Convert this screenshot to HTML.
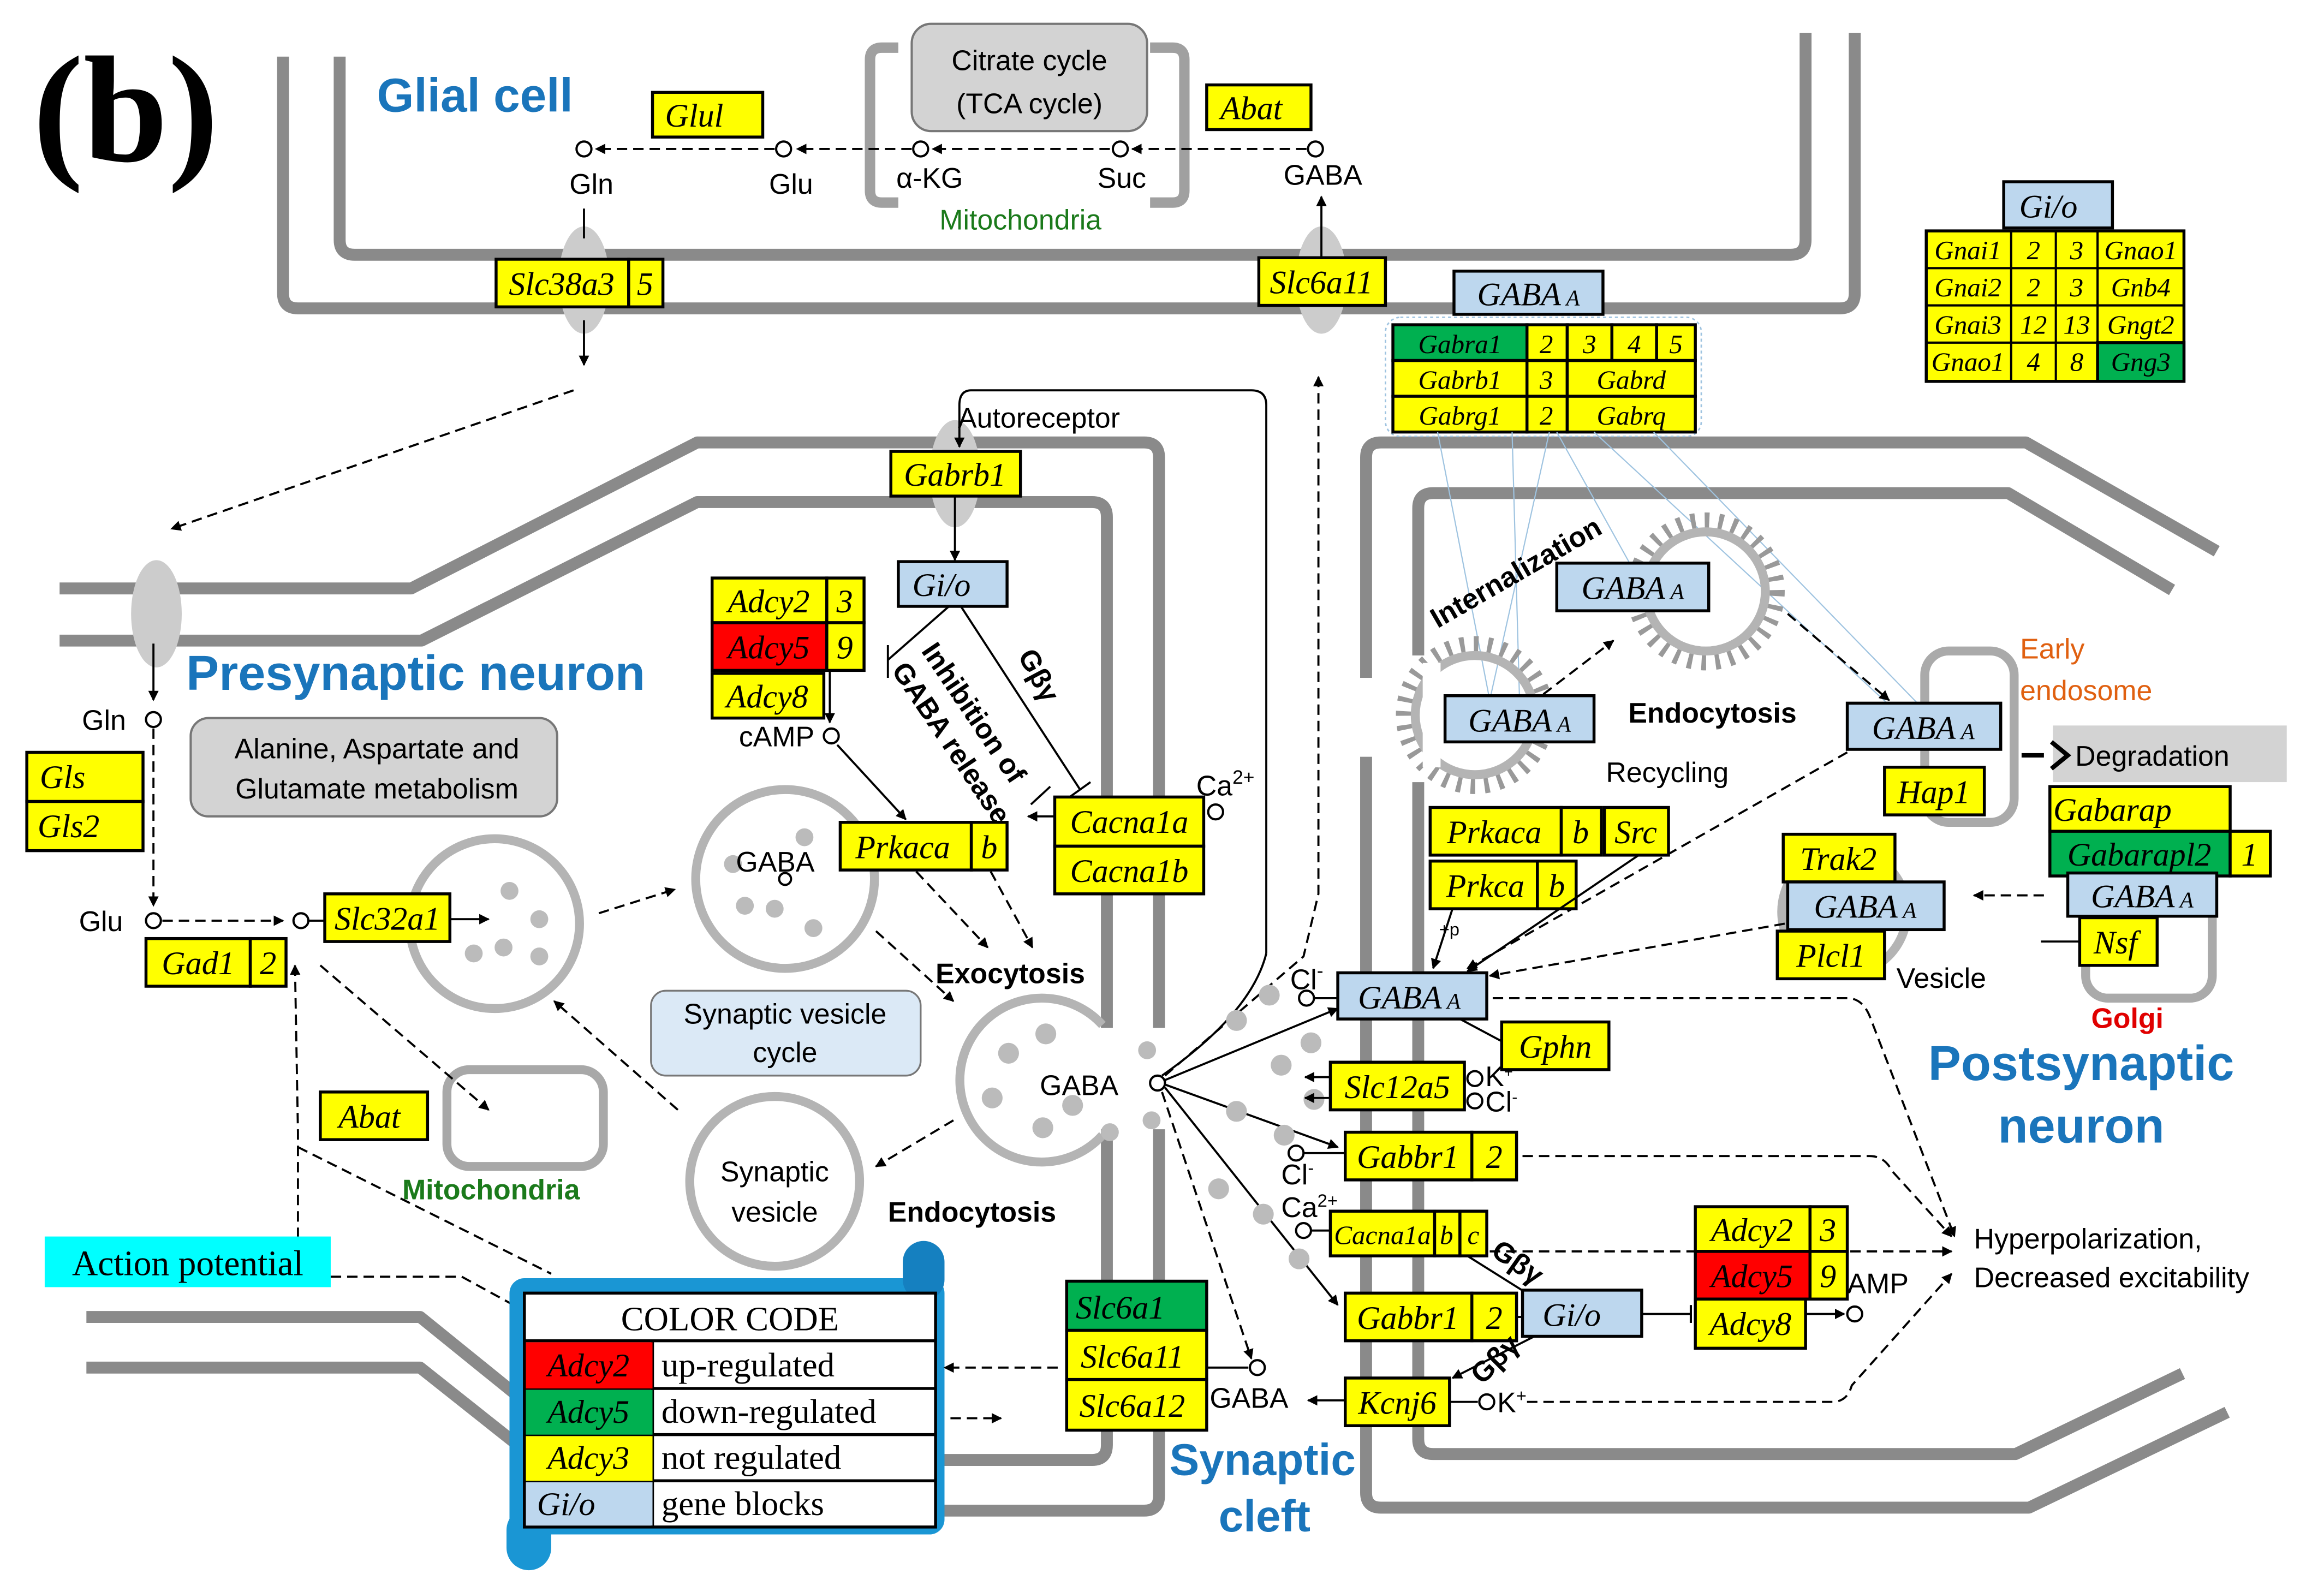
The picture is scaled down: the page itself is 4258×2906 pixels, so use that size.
<!DOCTYPE html>
<html><head><meta charset="utf-8">
<style>
html,body{margin:0;padding:0;background:#fff;}
svg{display:block}
.m{fill:none;stroke:#8a8a8a;stroke-width:8;stroke-linejoin:round}
.v{fill:none;stroke:#b4b4b4;stroke-width:6}
.y{fill:#ffff00;stroke:#000;stroke-width:2}
.b{fill:#bdd7ee;stroke:#000;stroke-width:2}
.rd{fill:#ff0000;stroke:#000;stroke-width:2}
.gr{fill:#00b050;stroke:#000;stroke-width:2}
.t{font-family:"Liberation Serif",serif;font-style:italic;font-size:22px;text-anchor:middle}
.ts{font-family:"Liberation Serif",serif;font-style:italic;font-size:18px;text-anchor:middle}
.s{font-family:"Liberation Sans",sans-serif;font-size:19px}
.sc{font-family:"Liberation Sans",sans-serif;font-size:19px;text-anchor:middle}
.bl{font-family:"Liberation Sans",sans-serif;font-weight:bold;fill:#1a75bb}
.d{fill:none;stroke:#000;stroke-width:1.4;stroke-dasharray:7,4}
.l{fill:none;stroke:#000;stroke-width:1.4}
.o{fill:#fff;stroke:#000;stroke-width:1.5}
.dot{fill:#bbb}
.cc{font-family:"Liberation Serif",serif;font-size:23px}
</style></head>
<body>
<svg width="4258" height="2906" viewBox="0 0 1560 1064.6" preserveAspectRatio="none" xmlns="http://www.w3.org/2000/svg">
<defs>
<marker id="a" viewBox="0 0 10 10" refX="9" refY="5" markerWidth="7" markerHeight="7" orient="auto-start-reverse" markerUnits="userSpaceOnUse"><path d="M0,0 L10,5 L0,10 z" fill="#000"/></marker>
<marker id="tb" viewBox="0 0 4 12" refX="2" refY="6" markerWidth="4" markerHeight="12" orient="auto" markerUnits="userSpaceOnUse"><path d="M2,0 V12" stroke="#000" stroke-width="1.5"/></marker>
</defs>

<text x="22" y="108" font-family="Liberation Serif,serif" font-weight="bold" font-size="102">(b)</text>

<path class="m" d="M190,38 V197 Q190,207 200,207 H1235 Q1245,207 1245,197 V22"/>
<path class="m" d="M228,38 V161 Q228,171 238,171 H1202 Q1212,171 1212,161 V22"/>
<ellipse cx="392" cy="188" rx="17" ry="36" fill="#ccc"/>
<ellipse cx="887" cy="188" rx="17" ry="36" fill="#ccc"/>

<path d="M603,32 H592 Q584,32 584,40 V128 Q584,136 592,136 H603" fill="none" stroke="#a0a0a0" stroke-width="7"/>
<path d="M772,32 H787 Q795,32 795,40 V128 Q795,136 787,136 H772" fill="none" stroke="#a0a0a0" stroke-width="7"/>
<rect x="612" y="16" width="158" height="72" rx="13" fill="#d3d3d3" stroke="#777" stroke-width="1.5"/>
<text x="691" y="47" class="sc" font-size="20">Citrate cycle</text>
<text x="691" y="76" class="sc" font-size="20">(TCA cycle)</text>

<text x="253" y="75" class="bl" font-size="32">Glial cell</text>

<path class="d" d="M877,100 H760" marker-end="url(#a)"/>
<path class="d" d="M745,100 H626" marker-end="url(#a)"/>
<path class="d" d="M612,100 H535" marker-end="url(#a)"/>
<path class="d" d="M520,100 H400" marker-end="url(#a)"/>
<circle class="o" cx="392" cy="100" r="5"/><circle class="o" cx="526" cy="100" r="5"/><circle class="o" cx="618" cy="100" r="5"/><circle class="o" cx="752" cy="100" r="5"/><circle class="o" cx="883" cy="100" r="5"/>
<text x="397" y="130" class="sc">Gln</text><text x="531" y="130" class="sc">Glu</text><text x="624" y="126" class="sc">α-KG</text><text x="753" y="126" class="sc">Suc</text><text x="888" y="124" class="sc">GABA</text>
<text x="685" y="154" class="sc" fill="#1b7a1b" font-size="21">Mitochondria</text>
<rect class="y" x="438" y="62" width="74" height="30"/><text x="466" y="85" class="t">Glul</text>
<rect class="y" x="810" y="57" width="70" height="30"/><text x="840" y="80" class="t">Abat</text>

<rect class="y" x="333" y="174" width="89" height="32"/><rect class="y" x="422" y="174" width="23" height="32"/>
<text x="377" y="198" class="t">Slc38a3</text><text x="433" y="198" class="t">5</text>
<rect class="y" x="845" y="173" width="85" height="32"/><text x="887" y="197" class="t">Slc6a11</text>
<path class="l" d="M887,173 V132" marker-end="url(#a)"/>
<path class="l" d="M392,140 V160"/>
<path class="l" d="M392,215 V245" marker-end="url(#a)"/>
<path class="d" d="M385,262 L115,355" marker-end="url(#a)"/>

<path class="m" d="M40,395 H276 L468,297 H768 Q778,297 778,307 V690 M778,758 V1004 Q778,1014 768,1014 H631"/>
<path class="m" d="M40,430 H283 L468,337 H733 Q743,337 743,347 V690 M743,758 V970 Q743,980 733,980 H631"/>
<path class="m" d="M58,884 H282 L345,935"/>
<path class="m" d="M58,918 H282 L345,968"/>
<ellipse cx="105" cy="412" rx="17" ry="36" fill="#ccc"/>
<ellipse cx="641" cy="318" rx="17" ry="36" fill="#ccc"/>

<text x="125" y="463" class="bl" font-size="33">Presynaptic neuron</text>

<path class="l" d="M850,640 V272 Q850,262 840,262 H652 Q644,262 644,272 V300" marker-end="url(#a)"/>
<text x="643" y="287" class="s">Autoreceptor</text>
<rect class="y" x="598" y="303" width="87" height="30"/><text x="641" y="326" class="t">Gabrb1</text>
<path class="l" d="M641,333 V376" marker-end="url(#a)"/>
<rect class="b" x="603" y="377" width="73" height="30"/><text x="632" y="400" class="t">Gi/o</text>

<path class="l" d="M637,407 L596,443"/><path class="l" d="M596,433 V455"/>
<path class="l" d="M645,407 L725,530"/><path class="l" d="M718,535 L732,525"/>
<path class="l" d="M692,540 L705,528"/>
<text transform="translate(618,437) rotate(56)" class="s" font-weight="bold" font-size="20">Inhibition of</text>
<text transform="translate(598,450) rotate(56)" class="s" font-weight="bold" font-size="20">GABA release</text>
<text transform="translate(683,440) rotate(62)" class="s" font-weight="bold" font-size="20">Gβγ</text>

<rect class="y" x="478" y="388" width="77" height="30"/><rect class="y" x="555" y="388" width="25" height="30"/>
<rect class="rd" x="478" y="418" width="77" height="32"/><rect class="y" x="555" y="418" width="25" height="32"/>
<rect class="y" x="478" y="452" width="75" height="30"/>
<text x="516" y="411" class="t">Adcy2</text><text x="567" y="411" class="t">3</text>
<text x="516" y="442" class="t">Adcy5</text><text x="567" y="442" class="t">9</text>
<text x="515" y="475" class="t">Adcy8</text>
<path class="l" d="M557,450 V485" marker-end="url(#a)"/>
<circle class="o" cx="558" cy="494" r="5"/>
<text x="496" y="501" class="s">cAMP</text>
<path class="l" d="M562,500 L608,550" marker-end="url(#a)"/>

<rect class="y" x="18" y="505" width="78" height="33"/><text x="42" y="529" class="t">Gls</text>
<rect class="y" x="18" y="538" width="78" height="33"/><text x="46" y="562" class="t">Gls2</text>
<rect x="128" y="482" width="246" height="66" rx="12" fill="#d3d3d3" stroke="#777" stroke-width="1.5"/>
<text x="253" y="509" class="sc">Alanine, Aspartate and</text>
<text x="253" y="536" class="sc">Glutamate metabolism</text>
<text x="55" y="490" class="s">Gln</text>
<circle class="o" cx="103" cy="483" r="5"/>
<path class="l" d="M103,432 V470" marker-end="url(#a)"/>
<path class="d" d="M103,489 V608" marker-end="url(#a)"/>
<text x="53" y="625" class="s">Glu</text>
<circle class="o" cx="103" cy="618" r="5"/>
<path class="d" d="M109,618 H190" marker-end="url(#a)"/>
<circle class="o" cx="202" cy="618" r="5"/>
<path class="l" d="M207,618 H218"/>

<circle class="v" cx="332" cy="620" r="57"/>
<circle class="dot" cx="342" cy="598" r="6"/><circle class="dot" cx="362" cy="617" r="6"/><circle class="dot" cx="318" cy="640" r="6"/><circle class="dot" cx="338" cy="636" r="6"/><circle class="dot" cx="362" cy="642" r="6"/>

<rect class="y" x="218" y="600" width="84" height="32"/><text x="260" y="624" class="t">Slc32a1</text>
<path class="l" d="M302,617 H328" marker-end="url(#a)"/>
<rect class="y" x="98" y="630" width="70" height="32"/><rect class="y" x="168" y="630" width="24" height="32"/>
<text x="133" y="654" class="t">Gad1</text><text x="180" y="654" class="t">2</text>

<circle class="v" cx="527" cy="590" r="60"/>
<circle class="dot" cx="540" cy="562" r="6"/><circle class="dot" cx="492" cy="580" r="6"/><circle class="dot" cx="500" cy="608" r="6"/><circle class="dot" cx="520" cy="610" r="6"/><circle class="dot" cx="546" cy="623" r="6"/>
<text x="494" y="585" class="s" font-size="20">GABA</text>
<circle class="o" cx="527" cy="590" r="4"/>
<path class="v" d="M740,688 A55,55 0 1 0 740,762"/>
<circle class="dot" cx="677" cy="707" r="7"/><circle class="dot" cx="702" cy="694" r="7"/><circle class="dot" cx="666" cy="737" r="7"/><circle class="dot" cx="720" cy="742" r="7"/><circle class="dot" cx="700" cy="757" r="7"/>
<circle class="dot" cx="770" cy="705" r="6"/><circle class="dot" cx="773" cy="752" r="6"/><circle class="dot" cx="745" cy="760" r="6"/>
<circle class="v" cx="520" cy="793" r="57"/>
<text x="520" y="793" class="sc">Synaptic</text><text x="520" y="820" class="sc">vesicle</text>
<rect x="300" y="718" width="105" height="65" rx="15" fill="none" stroke="#a8a8a8" stroke-width="6"/>
<text x="270" y="805" class="s" fill="#1b7a1b" font-weight="bold" font-size="21">Mitochondria</text>
<rect class="y" x="215" y="733" width="72" height="32"/><text x="248" y="757" class="t">Abat</text>
<path class="d" d="M215,648 L328,745" marker-end="url(#a)"/>
<path class="d" d="M200,842 V760 L198,648" marker-end="url(#a)"/>
<path class="d" d="M200,770 L370,855"/>
<path class="d" d="M402,613 L453,597" marker-end="url(#a)"/>
<path class="d" d="M455,745 L372,672" marker-end="url(#a)"/>
<path class="d" d="M640,752 L588,783" marker-end="url(#a)"/>
<path class="d" d="M588,625 L640,672" marker-end="url(#a)"/>
<rect x="437" y="665" width="181" height="57" rx="10" fill="#dbe9f6" stroke="#777" stroke-width="1.2"/>
<text x="527" y="687" class="sc">Synaptic vesicle</text><text x="527" y="713" class="sc">cycle</text>
<text x="628" y="660" class="s" font-size="20" font-weight="bold">Exocytosis</text>
<text x="596" y="820" class="s" font-size="20" font-weight="bold">Endocytosis</text>

<rect class="y" x="564" y="552" width="88" height="32"/><rect class="y" x="652" y="552" width="24" height="32"/>
<text x="606" y="576" class="t">Prkaca</text><text x="664" y="576" class="t">b</text>
<path class="d" d="M615,585 L663,636" marker-end="url(#a)"/>
<path class="d" d="M665,585 L693,636" marker-end="url(#a)"/>
<rect class="y" x="708" y="535" width="100" height="33"/><rect class="y" x="708" y="568" width="100" height="32"/>
<text x="758" y="559" class="t">Cacna1a</text><text x="758" y="592" class="t">Cacna1b</text>
<path class="l" d="M708,548 H690" marker-end="url(#a)"/>
<circle class="o" cx="816" cy="545" r="5"/>
<text x="803" y="534" class="s">Ca<tspan font-size="13" dy="-8">2+</tspan></text>

<rect x="30" y="830" width="192" height="34" fill="#00ffff"/>
<text x="126" y="856" font-family="Liberation Serif,serif" font-size="24" text-anchor="middle">Action potential</text>
<path class="d" d="M222,857 H310 L352,880"/>
<rect x="342" y="858" width="292" height="172" rx="10" fill="#1a96d4"/>
<rect x="606" y="833" width="28" height="40" rx="14" fill="#1580c0"/>
<rect x="340" y="1012" width="30" height="42" rx="15" fill="#1a96d4"/>
<rect x="352" y="868" width="276" height="157" fill="#fff" stroke="#000" stroke-width="2"/>
<text x="490" y="893" class="cc" text-anchor="middle">COLOR CODE</text>
<path d="M352,900 H628 M352,932 H628 M352,963 H628 M352,994 H628 M438,900 V1025" stroke="#000" stroke-width="2"/>
<rect x="353" y="901" width="85" height="31" fill="#ff0000"/>
<rect x="353" y="933" width="85" height="30" fill="#00b050"/>
<rect x="353" y="964" width="85" height="30" fill="#ffff00"/>
<rect x="353" y="995" width="85" height="29" fill="#bdd7ee"/>
<text x="395" y="924" class="t">Adcy2</text><text x="395" y="955" class="t">Adcy5</text><text x="395" y="986" class="t">Adcy3</text><text x="380" y="1017" class="t">Gi/o</text>
<text x="444" y="924" class="cc">up-regulated</text><text x="444" y="955" class="cc">down-regulated</text><text x="444" y="986" class="cc">not regulated</text><text x="444" y="1017" class="cc">gene blocks</text>
<path class="d" d="M634,918 H710" marker-end="url(#a)" transform="translate(1344,0) scale(-1,1)"/>
<path class="d" d="M638,952 H672" marker-end="url(#a)"/>

<rect class="gr" x="716" y="860" width="94" height="33"/><rect class="y" x="716" y="893" width="94" height="33"/><rect class="y" x="716" y="926" width="94" height="34"/>
<text x="752" y="885" class="t">Slc6a1</text><text x="760" y="918" class="t">Slc6a11</text><text x="760" y="951" class="t">Slc6a12</text>
<path class="l" d="M810,918 H838"/><circle class="o" cx="844" cy="918" r="5"/>
<text x="812" y="945" class="s" font-size="20">GABA</text>
<path class="l" d="M903,940 H878" marker-end="url(#a)"/>

<text x="698" y="735" class="s" font-size="20">GABA</text>
<circle class="o" cx="777" cy="727" r="5"/>
<path class="l" d="M782,725 L898,677" marker-end="url(#a)"/>
<path class="l" d="M782,728 L898,770" marker-end="url(#a)"/>
<path class="l" d="M782,730 L898,876" marker-end="url(#a)"/>
<path class="d" d="M780,733 L840,912" marker-end="url(#a)"/>
<path class="d" d="M782,722 L875,642 L885,600 V253" marker-end="url(#a)"/>
<path class="l" d="M780,722 Q840,680 850,640"/>
<circle class="dot" cx="852" cy="668" r="7"/><circle class="dot" cx="830" cy="685" r="7"/><circle class="dot" cx="880" cy="700" r="7"/><circle class="dot" cx="860" cy="715" r="7"/><circle class="dot" cx="882" cy="738" r="7"/><circle class="dot" cx="830" cy="746" r="7"/><circle class="dot" cx="862" cy="762" r="7"/><circle class="dot" cx="818" cy="798" r="7"/><circle class="dot" cx="848" cy="815" r="7"/><circle class="dot" cx="872" cy="845" r="7"/>
<text x="785" y="990" class="bl" font-size="30">Synaptic</text><text x="818" y="1028" class="bl" font-size="30">cleft</text>

<path class="m" d="M1488,370 L1360,297 H927 Q917,297 917,307 V455 M917,508 V1002 Q917,1012 927,1012 H1362 L1495,948"/>
<path class="m" d="M1458,396 L1348,331 H962 Q952,331 952,341 V440 M952,525 V966 Q952,976 962,976 H1353 L1465,922"/>

<rect class="b" x="976" y="182" width="100" height="29"/><text x="1026" y="205" class="t">GABA<tspan font-size="15"> A</tspan></text>
<rect x="930" y="213" width="212" height="80" rx="10" fill="none" stroke="#9ec3e0" stroke-width="1" stroke-dasharray="2,2"/>
<rect class="gr" x="935" y="218" width="90" height="24"/>
<rect class="y" x="1025" y="218" width="27" height="24"/><rect class="y" x="1052" y="218" width="30" height="24"/><rect class="y" x="1082" y="218" width="30" height="24"/><rect class="y" x="1112" y="218" width="26" height="24"/>
<rect class="y" x="935" y="242" width="90" height="24"/><rect class="y" x="1025" y="242" width="27" height="24"/><rect class="y" x="1052" y="242" width="86" height="24"/>
<rect class="y" x="935" y="266" width="90" height="24"/><rect class="y" x="1025" y="266" width="27" height="24"/><rect class="y" x="1052" y="266" width="86" height="24"/>
<g class="ts"><text x="980" y="237">Gabra1</text><text x="1038" y="237">2</text><text x="1067" y="237">3</text><text x="1097" y="237">4</text><text x="1125" y="237">5</text>
<text x="980" y="261">Gabrb1</text><text x="1038" y="261">3</text><text x="1095" y="261">Gabrd</text>
<text x="980" y="285">Gabrg1</text><text x="1038" y="285">2</text><text x="1095" y="285">Gabrq</text></g>
<g stroke="#9ec3e0" stroke-width="0.8" fill="none">
<path d="M965,290 L1000,470"/><path d="M1015,290 L1020,470"/><path d="M1045,290 L1095,380"/><path d="M1070,290 L1270,475"/><path d="M1110,290 L1290,475"/><path d="M1040,290 L1000,470"/>
</g>

<rect class="b" x="1345" y="122" width="73" height="31"/><text x="1375" y="146" class="t">Gi/o</text>
<rect class="y" x="1293" y="155" width="173" height="101"/>
<rect class="gr" x="1408" y="230" width="58" height="26"/>
<path d="M1293,180 H1466 M1293,205 H1466 M1293,230 H1466 M1350,155 V256 M1380,155 V256 M1408,155 V256" stroke="#000" stroke-width="1.5"/>
<g class="ts" font-size="17"><text x="1321" y="174">Gnai1</text><text x="1365" y="174">2</text><text x="1394" y="174">3</text><text x="1437" y="174">Gnao1</text>
<text x="1321" y="199">Gnai2</text><text x="1365" y="199">2</text><text x="1394" y="199">3</text><text x="1437" y="199">Gnb4</text>
<text x="1321" y="224">Gnai3</text><text x="1365" y="224">12</text><text x="1394" y="224">13</text><text x="1437" y="224">Gngt2</text>
<text x="1321" y="249">Gnao1</text><text x="1365" y="249">4</text><text x="1394" y="249">8</text><text x="1437" y="249">Gng3</text></g>

<circle cx="1145" cy="397" r="46" fill="none" stroke="#999" stroke-width="14" stroke-dasharray="3,6"/>
<circle cx="1145" cy="397" r="40" fill="none" stroke="#b4b4b4" stroke-width="6"/>
<circle cx="990" cy="480" r="46" fill="none" stroke="#999" stroke-width="14" stroke-dasharray="3,6"/>
<circle cx="990" cy="480" r="40" fill="none" stroke="#b4b4b4" stroke-width="6"/>
<rect x="955" y="445" width="12" height="70" fill="#fff"/>
<text transform="translate(965,422) rotate(-30)" class="s" font-weight="bold" font-size="20">Internalization</text>
<rect class="b" x="1045" y="378" width="102" height="32"/><text x="1096" y="402" class="t">GABA<tspan font-size="15"> A</tspan></text>
<rect class="b" x="970" y="467" width="100" height="31"/><text x="1020" y="491" class="t">GABA<tspan font-size="15"> A</tspan></text>
<path class="d" d="M1036,466 L1083,430" marker-end="url(#a)"/>
<path class="d" d="M1200,412 L1268,470" marker-end="url(#a)"/>
<text x="1093" y="485" class="s" font-size="20" font-weight="bold">Endocytosis</text>
<text x="1078" y="525" class="s" font-size="20">Recycling</text>
<rect x="1292" y="437" width="60" height="115" rx="16" fill="none" stroke="#aaa" stroke-width="6"/>
<rect class="b" x="1240" y="472" width="103" height="31"/><text x="1291" y="496" class="t">GABA<tspan font-size="15"> A</tspan></text>
<path class="d" d="M1240,505 L985,650" marker-end="url(#a)"/>

<text x="1356" y="442" class="s" fill="#e06010" font-size="21">Early</text>
<text x="1356" y="470" class="s" fill="#e06010" font-size="21">endosome</text>
<rect x="1378" y="487" width="157" height="38" fill="#d3d3d3"/>
<path d="M1357,507 H1372" stroke="#000" stroke-width="3"/>
<path d="M1377,498 L1388,507 L1377,516" fill="none" stroke="#000" stroke-width="3"/>
<text x="1393" y="514" class="s" font-size="20">Degradation</text>
<rect class="y" x="1265" y="515" width="67" height="32"/><text x="1298" y="539" class="t">Hap1</text>

<rect x="1400" y="598" width="85" height="72" rx="15" fill="none" stroke="#aaa" stroke-width="6"/>
<rect class="y" x="1376" y="528" width="121" height="30"/><text x="1418" y="551" class="t">Gabarap</text>
<rect class="gr" x="1376" y="558" width="121" height="30"/><rect class="y" x="1497" y="558" width="27" height="30"/>
<text x="1436" y="581" class="t">Gabarapl2</text><text x="1510" y="581" class="t">1</text>
<rect class="b" x="1388" y="586" width="100" height="29"/><text x="1438" y="609" class="t">GABA<tspan font-size="15"> A</tspan></text>
<rect class="y" x="1396" y="616" width="52" height="32"/><text x="1420" y="640" class="t">Nsf</text>
<path class="l" d="M1370,632 H1396"/>
<text x="1428" y="690" class="sc" fill="#e00000" font-weight="bold" font-size="18">Golgi</text>
<path class="d" d="M1372,601 H1325" marker-end="url(#a)"/>

<circle cx="1238" cy="612" r="42" fill="none" stroke="#b4b4b4" stroke-width="6"/>
<rect class="y" x="1197" y="560" width="75" height="32"/><text x="1234" y="584" class="t">Trak2</text>
<rect class="b" x="1200" y="592" width="105" height="32"/><text x="1252" y="616" class="t">GABA<tspan font-size="15"> A</tspan></text>
<rect class="y" x="1193" y="625" width="72" height="32"/><text x="1229" y="649" class="t">Plcl1</text>
<text x="1273" y="663" class="s" font-size="18">Vesicle</text>
<path class="d" d="M1198,620 L1000,655" marker-end="url(#a)"/>

<rect class="y" x="960" y="542" width="88" height="32"/><rect class="y" x="1048" y="542" width="27" height="32"/><rect class="y" x="1077" y="542" width="43" height="32"/>
<text x="1003" y="566" class="t">Prkaca</text><text x="1061" y="566" class="t">b</text><text x="1098" y="566" class="t">Src</text>
<rect class="y" x="960" y="578" width="72" height="32"/><rect class="y" x="1032" y="578" width="26" height="32"/>
<text x="997" y="602" class="t">Prkca</text><text x="1045" y="602" class="t">b</text>
<text x="966" y="628" font-family="Liberation Sans,sans-serif" font-size="12">+p</text>
<path class="l" d="M975,610 L962,650" marker-end="url(#a)"/>
<path class="l" d="M1100,574 L985,652" marker-end="url(#a)"/>

<text x="866" y="664" class="s" font-size="20">Cl<tspan font-size="13" dy="-8">-</tspan></text>
<circle class="o" cx="877" cy="670" r="5"/><path class="l" d="M882,670 H898"/>
<rect class="b" x="898" y="653" width="100" height="31"/><text x="946" y="677" class="t">GABA<tspan font-size="15"> A</tspan></text>
<path class="l" d="M980,684 L1010,700"/>
<rect class="y" x="1008" y="686" width="72" height="32"/><text x="1044" y="710" class="t">Gphn</text>
<path class="d" d="M1002,670 H1240 Q1250,670 1255,682 L1312,830" marker-end="url(#a)"/>
<rect class="y" x="893" y="713" width="90" height="32"/><text x="938" y="737" class="t">Slc12a5</text>
<path class="l" d="M893,723 H876" marker-end="url(#a)"/><path class="l" d="M893,737 H876" marker-end="url(#a)"/>
<circle class="o" cx="990" cy="724" r="5"/><circle class="o" cx="990" cy="739" r="5"/>
<text x="997" y="729" class="s" font-size="14">K<tspan font-size="10" dy="-6">+</tspan></text>
<text x="997" y="746" class="s" font-size="17">Cl<tspan font-size="11" dy="-6">-</tspan></text>
<circle class="o" cx="870" cy="774" r="5"/><path class="l" d="M875,774 H903"/>
<text x="860" y="795" class="s" font-size="19">Cl<tspan font-size="12" dy="-7">-</tspan></text>
<text x="860" y="817" class="s" font-size="19">Ca<tspan font-size="12" dy="-7">2+</tspan></text>
<rect class="y" x="903" y="760" width="85" height="32"/><rect class="y" x="988" y="760" width="30" height="32"/>
<text x="945" y="784" class="t">Gabbr1</text><text x="1003" y="784" class="t">2</text>
<path class="d" d="M1022,776 H1255 Q1265,776 1270,786 L1310,830" marker-end="url(#a)"/>
<circle class="o" cx="875" cy="826" r="5"/><path class="l" d="M880,826 H893"/>
<rect class="y" x="893" y="813" width="70" height="30"/><rect class="y" x="963" y="813" width="17" height="30"/><rect class="y" x="980" y="813" width="18" height="30"/>
<text x="928" y="835" class="ts">Cacna1a</text><text x="971" y="835" class="ts">b</text><text x="989" y="835" class="ts">c</text>
<path class="d" d="M1000,840 H1310" marker-end="url(#a)"/>
<path class="l" d="M985,843 L1028,870"/>
<text transform="translate(1000,842) rotate(35)" class="s" font-size="17" font-weight="bold">Gβγ</text>
<rect class="y" x="903" y="868" width="85" height="32"/><rect class="y" x="988" y="868" width="30" height="32"/>
<text x="945" y="892" class="t">Gabbr1</text><text x="1003" y="892" class="t">2</text>
<path class="l" d="M1018,884 H1022"/>
<rect class="b" x="1022" y="866" width="80" height="31"/><text x="1055" y="890" class="t">Gi/o</text>
<path class="l" d="M1102,882 H1135" marker-end="url(#tb)"/>
<path class="l" d="M1030,897 L975,925" marker-end="url(#a)"/>
<text transform="translate(995,930) rotate(-45)" class="s" font-size="17" font-weight="bold">Gβγ</text>
<rect class="y" x="903" y="925" width="70" height="32"/><text x="938" y="949" class="t">Kcnj6</text>
<path class="l" d="M973,941 H992"/><circle class="o" cx="998" cy="941" r="5"/>
<text x="1005" y="948" class="s" font-size="18">K<tspan font-size="12" dy="-7">+</tspan></text>
<path class="d" d="M1025,941 H1230 Q1240,941 1243,930 L1310,855" marker-end="url(#a)"/>

<rect class="y" x="1138" y="810" width="77" height="30"/><rect class="y" x="1215" y="810" width="25" height="30"/>
<rect class="rd" x="1138" y="840" width="77" height="32"/><rect class="y" x="1215" y="840" width="25" height="32"/>
<rect class="y" x="1138" y="872" width="74" height="33"/>
<text x="1176" y="833" class="t">Adcy2</text><text x="1227" y="833" class="t">3</text>
<text x="1176" y="864" class="t">Adcy5</text><text x="1227" y="864" class="t">9</text>
<text x="1175" y="896" class="t">Adcy8</text>
<path class="l" d="M1212,882 H1238" marker-end="url(#a)"/><circle class="o" cx="1245" cy="882" r="5"/>
<text x="1240" y="868" class="s" font-size="18">AMP</text>
<text x="1325" y="838" class="s" font-size="19">Hyperpolarization,</text>
<text x="1325" y="864" class="s" font-size="19">Decreased excitability</text>

<text x="1397" y="725" class="bl" font-size="33" text-anchor="middle">Postsynaptic</text>
<text x="1397" y="767" class="bl" font-size="33" text-anchor="middle">neuron</text>
</svg>
</body></html>
